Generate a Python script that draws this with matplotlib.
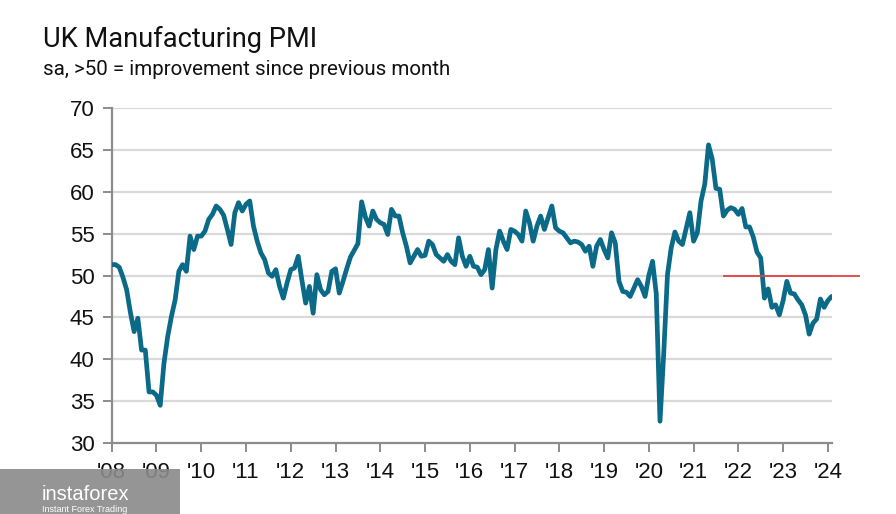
import matplotlib
matplotlib.use("Agg")
import matplotlib.pyplot as plt
from matplotlib.patches import Rectangle
import numpy as np

# monthly PMI readings, Jan 2008 .. Feb 2024
pmi_2008 = [51.3, 51.3, 51.0, 49.8, 48.3, 45.6, 43.3, 44.9, 41.1, 41.1, 36.1, 36.1]
pmi_2009 = [35.7, 34.5, 39.5, 42.7, 45.1, 47.1, 50.5, 51.3, 50.5, 54.7, 53.1, 54.7]
pmi_2010 = [54.7, 55.3, 56.7, 57.3, 58.3, 57.9, 57.2, 55.5, 53.7, 57.5, 58.7, 57.7]
pmi_2011 = [58.5, 58.9, 55.9, 54.1, 52.7, 51.9, 50.3, 49.9, 50.7, 48.7, 47.3, 49.1]
pmi_2012 = [50.7, 50.9, 52.3, 49.4, 46.7, 48.7, 45.5, 50.1, 48.3, 47.7, 48.1, 50.5]
pmi_2013 = [50.8, 47.9, 49.3, 50.8, 52.2, 53.0, 53.8, 58.8, 57.0, 55.9, 57.7, 56.7]
pmi_2014 = [56.3, 56.1, 54.9, 57.9, 57.1, 57.1, 55.1, 53.5, 51.5, 52.3, 53.1, 52.3]
pmi_2015 = [52.4, 54.1, 53.7, 52.5, 52.1, 51.7, 52.5, 51.7, 51.3, 54.5, 52.3, 51.1]
pmi_2016 = [52.3, 51.1, 51.0, 50.1, 50.7, 53.1, 48.5, 53.1, 55.3, 54.1, 53.1, 55.5]
pmi_2017 = [55.3, 54.9, 54.1, 57.7, 56.3, 54.1, 55.9, 57.1, 55.5, 56.9, 58.3, 55.7]
pmi_2018 = [55.3, 55.1, 54.5, 53.9, 54.1, 54.0, 53.7, 52.9, 53.5, 51.1, 53.5, 54.3]
pmi_2019 = [53.1, 52.1, 55.1, 53.9, 49.3, 48.1, 48.0, 47.5, 48.5, 49.5, 48.7, 47.5]
pmi_2020 = [50.0, 51.7, 47.8, 32.6, 40.7, 50.1, 53.3, 55.2, 54.1, 53.7, 55.6, 57.5]
pmi_2021 = [54.1, 55.1, 58.9, 60.9, 65.6, 63.9, 60.4, 60.3, 57.1, 57.8, 58.1, 57.9]
pmi_2022 = [57.3, 58.0, 55.8, 55.8, 54.6, 52.8, 52.1, 47.3, 48.4, 46.2, 46.5, 45.3]
pmi_2023 = [47.0, 49.3, 47.9, 47.8, 47.1, 46.5, 45.3, 43.0, 44.3, 44.8, 47.2, 46.2]
pmi_2024 = [47.0, 47.5]

years = list(range(2008, 2025))
year_labels = ["'%02d" % (y % 100) for y in years]
y_ticks = [30, 35, 40, 45, 50, 55, 60, 65, 70]

# red marker line at the 50 level
ref_level = 50
ref_start = 2021.68
ref_end = 2024.70

pmi = (pmi_2008 + pmi_2009 + pmi_2010 + pmi_2011 + pmi_2012 + pmi_2013 + pmi_2014 + pmi_2015
       + pmi_2016 + pmi_2017 + pmi_2018 + pmi_2019 + pmi_2020 + pmi_2021 + pmi_2022 + pmi_2023 + pmi_2024)
x = 2008 + np.arange(len(pmi)) / 12.0

plt.rcParams['font.family'] = ['Liberation Sans', 'DejaVu Sans']

fig = plt.figure(figsize=(8.96, 5.14), dpi=100)
ax = fig.add_axes([0.1247, 0.1381, 0.8034, 0.6518])

for v in y_ticks[1:]:
    ax.axhline(v, color='#d9d9d9', lw=1.6, zorder=1)

ax.plot(x, pmi, color='#0a6a88', lw=3.4, solid_joinstyle='round', solid_capstyle='round', zorder=3)
ax.plot([ref_start, ref_end], [ref_level, ref_level], color='#e2403f', lw=1.3, clip_on=False, zorder=4)

ax.set_xlim(2008, 2008 + (len(pmi) - 1) / 12.0)
ax.set_ylim(30, 70)
ax.set_yticks(y_ticks)
ax.set_xticks(years)
ax.set_xticklabels(year_labels)

for side in ['top', 'right']:
    ax.spines[side].set_visible(False)
for side in ['left', 'bottom']:
    ax.spines[side].set_color('#8c8c8c')
    ax.spines[side].set_linewidth(1.6)
ax.tick_params(axis='both', length=6.5, width=1.4, color='#8c8c8c', labelsize=16, labelcolor='#111111')
ax.tick_params(axis='y', pad=6)
ax.tick_params(axis='x', pad=7)

fig.text(0.048, 0.909, "UK Manufacturing PMI", fontsize=19.6, family=['Roboto', 'DejaVu Sans'],
         color='#111111', va='baseline')
fig.text(0.048, 0.854, "sa, >50 = improvement since previous month", fontsize=14.8,
         family=['Roboto', 'DejaVu Sans'], color='#111111', va='baseline')

# watermark box bottom-left
fig.patches.append(Rectangle((0, 0), 180 / 896, 45 / 514, transform=fig.transFigure,
                             facecolor='#8a8a8a', alpha=0.9, edgecolor='none', zorder=10))
fig.text(0.047, 0.027, "instaforex", fontsize=14.5, family=['Liberation Sans Narrow', 'Liberation Sans'],
         color='white', va='baseline', zorder=11)
fig.text(0.047, 0.004, "Instant Forex Trading", fontsize=6.5, family=['Liberation Sans Narrow', 'Liberation Sans'],
         color='white', va='baseline', zorder=11)

fig.savefig("out.png", dpi=100)
